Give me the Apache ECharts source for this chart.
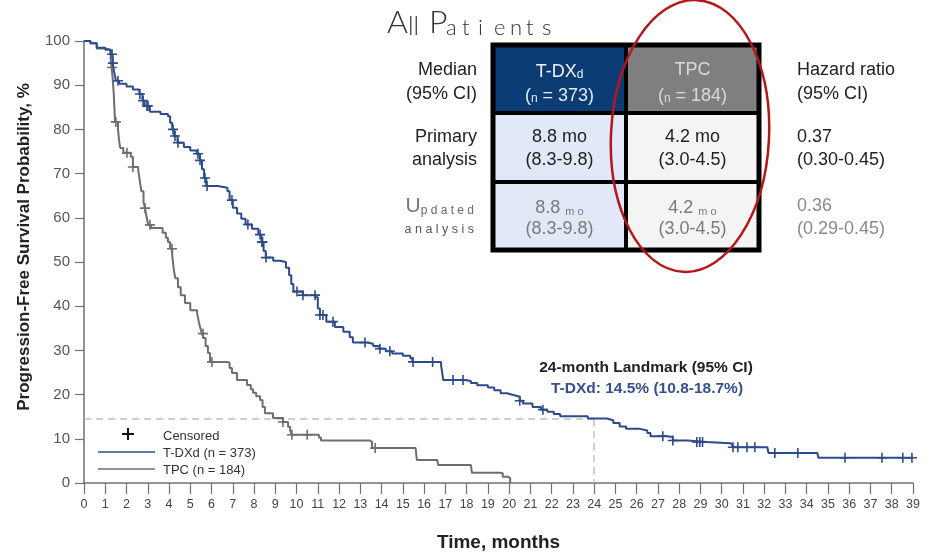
<!DOCTYPE html>
<html><head><meta charset="utf-8">
<script src="https://cdn.jsdelivr.net/npm/echarts@6/dist/echarts.min.js"></script>
<style>html,body{margin:0;padding:0;background:#fff}#c{width:935px;height:556px}</style>
</head><body><div id="c"></div>
<script>
// ---------------- DATA ----------------
const tdxdTime = [0,0.3,0.6,1.0,1.25,1.35,1.42,1.5,1.65,2.0,2.3,2.6,2.75,2.85,3.1,3.6,3.95,4.05,4.15,4.25,4.4,4.7,5.0,5.3,5.45,5.55,5.65,5.75,6.3,6.75,6.85,7.0,7.2,7.4,7.6,7.9,8.2,8.35,8.45,8.55,8.9,9.2,9.5,9.65,9.75,9.85,10.3,10.9,11.0,11.1,11.4,11.8,12.2,12.5,12.65,13.3,13.6,13.9,14.2,14.5,15.0,15.35,15.45,16.8,16.85,16.9,17.9,18.2,18.5,19.0,19.3,19.6,19.9,20.2,20.5,20.65,21.1,21.5,21.8,22.1,22.4,23.7,24.6,24.9,25.2,25.5,26.1,26.5,26.65,27.4,27.7,28.4,29.3,30.4,30.5,32.15,32.2,34.5,34.55,39];
const tdxdSurv = [100,99.5,98.5,98,97,95,93,91,90.3,89.7,89,88,86.5,85.3,84,83.5,83,81.5,80,78.5,77,76,75.2,74.5,73,71,69,67.2,66.8,66,64,62.3,61,59.8,58.5,57.5,56.2,54.5,52.5,51,50.3,50,48.7,47,45,43.3,42.5,42,39.5,38,36.5,35.3,34.2,33,31.8,31.5,31,30.4,29.8,29.3,28.8,28.2,27.4,26.6,25,23.3,23.1,22.6,22.1,21.6,21,20.3,19.9,19.5,18.6,18,17.2,16.6,16.1,15.6,15.1,14.6,14.2,13.6,12.8,12.3,11.9,11.3,10.6,10.4,9.6,9.3,9.0,8.8,8.1,7.9,6.8,6.8,5.7,5.7];
const tpcTime = [0,0.3,0.6,1.0,1.25,1.3,1.35,1.4,1.43,1.46,1.6,1.65,1.7,1.85,2.2,2.3,2.55,2.62,2.7,2.8,2.87,2.95,3.02,3.15,3.7,3.85,3.95,4.05,4.15,4.2,4.25,4.3,4.42,4.55,4.75,5.0,5.32,5.4,5.46,5.55,5.62,5.72,5.83,5.93,6.73,6.85,6.96,7.2,7.67,7.85,7.95,8.1,8.28,8.4,8.51,8.89,9.36,9.6,9.7,9.78,11.05,11.15,13.45,13.55,15.6,15.66,16.62,16.66,18.2,18.25,19.6,19.7,19.95,20.05];
const tpcSurv = [100,99.5,98.3,98,96,94,91.5,88,85,81.7,80,77.5,75.8,74.7,73.8,71.5,70.8,68.5,66,63.5,62.2,60,58.4,57.7,56.6,55.5,54.5,53,51.5,49.3,47.5,46.3,44.3,42.5,40.7,39.1,38.5,36.5,35.3,33.8,32.8,31,29.4,27.4,27.2,26,24.9,23.3,22.2,21.2,20.4,19.6,18.8,17.2,15.8,14.7,13.8,12.7,11.8,10.9,10.3,9.6,9.3,7.9,7.6,5.2,5.0,4.1,4.0,2.3,2.2,1.4,1.1,0];
const tdxdCensorTime = [1.32,1.36,1.6,2.63,2.78,2.96,3.01,4.19,4.28,4.42,5.36,5.46,5.69,5.79,6.96,7.71,8.28,8.37,8.4,8.56,10.02,10.3,10.87,11.1,11.24,11.71,13.22,13.92,14.39,15.48,16.4,17.36,17.83,20.5,21.59,27.23,27.7,28.83,28.97,29.1,30.53,30.76,31.19,31.56,32.5,33.58,35.8,37.54,38.52,38.95];
const tdxdCensorSurv = [97,95,91,88,86.5,85.3,85.3,80,78.5,77,74.5,73,69,67.2,64,58.5,56.2,54.5,54.5,51,43.3,42.5,42.5,38,38,36.5,31.8,30.4,29.8,27.4,27.4,23.3,23.3,18.6,16.6,10.6,9.6,9.3,9.3,9.3,8.1,8.1,8.1,8.1,6.8,6.8,5.7,5.7,5.7,5.7];
const tpcCensorTime = [1.32,1.5,2.02,2.3,2.87,3.1,4.14,5.6,6.02,9.36,9.78,10.5,13.7];
const tpcCensorSurv = [94,81.7,74.7,71.5,62.2,58.4,53,33.8,27.4,13.8,10.9,10.9,7.9];
const landmarkMonth = 24;
const landmarkValue = 14.5;
const seriesNames = ['T-DXd (n = 373)', 'TPC (n = 184)'];
const titleParts = ['A', 'll', 'P', 'atients'];
const tableHeaderTdxd = ['T-DX', 'd', '(', 'n', ' = 373)'];
const tableHeaderTpc = ['TPC', '(', 'n', ' = 184)'];
const rowLabels = [['Median', '(95% CI)'], ['Primary', 'analysis'], ['U', 'p d a t e d', 'a n a l y s i s']];
const tdxdPrimary = ['8.8 mo', '(8.3-9.8)'];
const tpcPrimary = ['4.2 mo', '(3.0-4.5)'];
const tdxdUpdated = ['8.8 ', 'm o', '(8.3-9.8)'];
const tpcUpdated = ['4.2 ', 'm o', '(3.0-4.5)'];
const hrLabels = [['Hazard ratio', '(95% CI)'], ['0.37', '(0.30-0.45)'], ['0.36', '(0.29-0.45)']];
const landmarkText = ['24-month Landmark (95% CI)', 'T-DXd: 14.5% (10.8-18.7%)'];

// ---------------- STYLE ----------------
const FONT = "'Liberation Sans', Arial, Helvetica, sans-serif";
const NARROW = "'Liberation Sans Narrow', 'Arial Narrow', 'Liberation Sans', Arial, sans-serif";
const TITLEF = "Lato, 'Noto Sans', sans-serif";
const BLUE = '#2d4b8c', GREY = '#6e6e6e';
const PLUS = 'path://M4.2,0H5.8V4.2H10V5.8H5.8V10H4.2V5.8H0V4.2H4.2Z';

const zip = (a, b) => a.map((v, i) => [v, b[i]]);

function txt(x, y, text, o) {
  o = o || {};
  return { type: 'text', x: x, y: y, z: o.z || 50, rotation: o.rotation || 0,
    style: { text: text, fill: o.fill || '#222', fontSize: o.size || 18, fontFamily: o.family || FONT,
      fontWeight: o.weight || 'normal', align: o.align || 'center', verticalAlign: o.va || 'middle', rich: o.rich } };
}
function richTok(size, fill, family) {
  return { fontSize: size, fill: fill, fontFamily: family || FONT, verticalAlign: 'bottom', lineHeight: 22 };
}

const gx0 = 493, gx1 = 626, gx2 = 759;
const gy = [45, 113, 182, 250];
const c1 = (gx0 + gx1) / 2, c2 = (gx1 + gx2) / 2;
const lineY = [[70, 94], [137, 160], [206, 229]];

const graphics = [];
// title (small-caps look, letter spaced)
const tt = (size, w) => ({ fontSize: size, fill: '#333', fontFamily: TITLEF, fontWeight: 300, verticalAlign: 'bottom', lineHeight: 36, width: w, align: 'left' });
const titleText = '{a|' + titleParts[0] + '}{b|' + titleParts[1] + '}{p|' + titleParts[2] + '}' +
  titleParts[3].split('').map(ch => '{t|' + ch + '}').join('');
graphics.push({ type: 'text', x: 387, y: 39, z: 50, style: {
  text: titleText, align: 'left', verticalAlign: 'bottom',
  rich: { a: tt(32, 21), b: tt(25, 21), p: tt(32, 17), t: tt(22, 16) } } });
// table cells
const fills = [['#0b3d74', '#7f7f7f'], ['#e1e8f7', '#f4f4f4'], ['#e1e8f7', '#f4f4f4']];
for (let r = 0; r < 3; r++) {
  graphics.push({ type: 'rect', z: 40, shape: { x: gx0, y: gy[r], width: gx1 - gx0, height: gy[r + 1] - gy[r] },
    style: { fill: fills[r][0], stroke: '#000', lineWidth: 4 } });
  graphics.push({ type: 'rect', z: 40, shape: { x: gx1, y: gy[r], width: gx2 - gx1, height: gy[r + 1] - gy[r] },
    style: { fill: fills[r][1], stroke: '#000', lineWidth: 4 } });
}
graphics.push({ type: 'rect', z: 41, shape: { x: gx0, y: gy[0], width: gx2 - gx0, height: gy[3] - gy[0] },
  style: { fill: 'none', stroke: '#000', lineWidth: 5 } });
// header texts
graphics.push(txt(c1, lineY[0][0], '{a|' + tableHeaderTdxd[0] + '}{s|' + tableHeaderTdxd[1] + '}', { rich: { a: richTok(18, '#eef2f8'), s: richTok(12, '#eef2f8') } }));
graphics.push(txt(c1, lineY[0][1], '{a|' + tableHeaderTdxd[2] + '}{s|' + tableHeaderTdxd[3] + '}{a|' + tableHeaderTdxd[4] + '}', { rich: { a: richTok(18, '#e4e9f2'), s: richTok(12, '#e4e9f2') } }));
graphics.push(txt(c2, lineY[0][0], tableHeaderTpc[0], { fill: '#dadada' }));
graphics.push(txt(c2, lineY[0][1], '{a|' + tableHeaderTpc[1] + '}{s|' + tableHeaderTpc[2] + '}{a|' + tableHeaderTpc[3] + '}', { rich: { a: richTok(18, '#dadada'), s: richTok(12, '#dadada') } }));
// primary row
graphics.push(txt(c1, lineY[1][0], tdxdPrimary[0]));
graphics.push(txt(c1, lineY[1][1], tdxdPrimary[1]));
graphics.push(txt(c2, lineY[1][0], tpcPrimary[0]));
graphics.push(txt(c2, lineY[1][1], tpcPrimary[1]));
// updated row
const UPC = '#7a7a7a';
graphics.push(txt(c1, lineY[2][0], '{a|' + tdxdUpdated[0] + '}{s|' + tdxdUpdated[1] + '}', { rich: { a: richTok(18, UPC), s: richTok(11, UPC) } }));
graphics.push(txt(c1, lineY[2][1], tdxdUpdated[2], { fill: UPC }));
graphics.push(txt(c2, lineY[2][0], '{a|' + tpcUpdated[0] + '}{s|' + tpcUpdated[1] + '}', { rich: { a: richTok(18, UPC), s: richTok(11, UPC) } }));
graphics.push(txt(c2, lineY[2][1], tpcUpdated[2], { fill: UPC }));
// left labels
const LX = 477;
graphics.push(txt(LX, lineY[0][0], rowLabels[0][0], { align: 'right' }));
graphics.push(txt(LX, lineY[0][1], rowLabels[0][1], { align: 'right' }));
graphics.push(txt(LX, lineY[1][0], rowLabels[1][0], { align: 'right' }));
graphics.push(txt(LX, lineY[1][1], rowLabels[1][1], { align: 'right' }));
graphics.push(txt(LX - 3, lineY[2][0], '{u|' + rowLabels[2][0] + '}{s|' + rowLabels[2][1] + '}', { align: 'right', rich: { u: richTok(21, '#7b6f80'), s: richTok(12, '#6a6a6a') } }));
graphics.push(txt(LX - 3, lineY[2][1] + 1, rowLabels[2][2], { align: 'right', size: 12.5, fill: '#555' }));
// right labels
const RX = 797;
for (let r = 0; r < 3; r++) {
  const f = r === 2 ? '#8a8a8a' : '#222';
  graphics.push(txt(RX, lineY[r][0], hrLabels[r][0], { align: 'left', fill: f }));
  graphics.push(txt(RX, lineY[r][1], hrLabels[r][1], { align: 'left', fill: f }));
}
// red ellipse
graphics.push({ type: 'ellipse', z: 60, x: 690, y: 136, rotation: -0.05, shape: { cx: 0, cy: 0, rx: 79, ry: 136 },
  style: { fill: 'none', stroke: '#b5161b', lineWidth: 2.5 } });
// landmark annotation
graphics.push(txt(646, 368, landmarkText[0], { size: 15.5, weight: 'bold', fill: '#222' }));
graphics.push(txt(647, 389, landmarkText[1], { size: 15.5, weight: 'bold', fill: '#34508f' }));
// legend
graphics.push({ type: 'line', z: 50, shape: { x1: 122, y1: 434, x2: 134, y2: 434 }, style: { stroke: '#111', lineWidth: 2 } });
graphics.push({ type: 'line', z: 50, shape: { x1: 128, y1: 428, x2: 128, y2: 440 }, style: { stroke: '#111', lineWidth: 2 } });
graphics.push({ type: 'line', z: 50, shape: { x1: 98, y1: 452, x2: 155, y2: 452 }, style: { stroke: BLUE, lineWidth: 1.5 } });
graphics.push({ type: 'line', z: 50, shape: { x1: 98, y1: 469, x2: 155, y2: 469 }, style: { stroke: GREY, lineWidth: 1.5 } });
graphics.push(txt(163, 436, 'Censored', { align: 'left', size: 13, fill: '#333' }));
graphics.push(txt(163, 453, seriesNames[0], { align: 'left', size: 13, fill: '#333' }));
graphics.push(txt(163, 470, seriesNames[1], { align: 'left', size: 13, fill: '#333' }));
// y axis name
graphics.push(txt(24, 247, 'Progression-Free Survival Probability, %', { rotation: Math.PI / 2, size: 17, weight: 'bold', fill: '#222' }));

const chart = echarts.init(document.getElementById('c'), null, { renderer: 'canvas' });
chart.setOption({
  animation: false,
  backgroundColor: '#fff',
  grid: { left: 84, right: 22, top: 41, bottom: 73, containLabel: false, outerBoundsMode: 'none' },
  xAxis: {
    type: 'value', min: 0, max: 39, interval: 1,
    axisLine: { lineStyle: { color: '#707070', width: 1.5 } },
    axisTick: { length: 11, lineStyle: { color: '#707070', width: 1.2 } },
    axisLabel: { margin: 15, fontSize: 12.5, color: '#444', fontFamily: NARROW },
    splitLine: { show: false },
    name: 'Time, months', nameLocation: 'middle', nameGap: 50,
    nameTextStyle: { fontSize: 19, fontWeight: 'bold', color: '#222', fontFamily: NARROW }
  },
  yAxis: {
    type: 'value', min: 0, max: 100, interval: 10,
    axisLine: { show: true, lineStyle: { color: '#707070', width: 1.5 } },
    axisTick: { show: true, length: 9, lineStyle: { color: '#707070', width: 1.2 } },
    axisLabel: { margin: 14, fontSize: 15, color: '#555', fontFamily: FONT },
    splitLine: { show: false }
  },
  series: [
    { name: seriesNames[1], type: 'line', step: 'end', symbol: 'none', data: zip(tpcTime, tpcSurv),
      lineStyle: { color: GREY, width: 2 }, z: 3 },
    { name: seriesNames[0], type: 'line', step: 'end', symbol: 'none', data: zip(tdxdTime, tdxdSurv),
      lineStyle: { color: BLUE, width: 2 }, z: 4,
      markLine: { silent: true, symbol: ['none', 'none'], label: { show: false }, z: 1,
        lineStyle: { type: [7, 5], color: '#c0c0c0', width: 1.5 },
        data: [[{ coord: [0, landmarkValue] }, { coord: [landmarkMonth, landmarkValue] }],
               [{ coord: [landmarkMonth, landmarkValue] }, { coord: [landmarkMonth, 0] }]] } },
    { type: 'scatter', symbol: PLUS, symbolSize: 10, data: zip(tpcCensorTime, tpcCensorSurv),
      itemStyle: { color: GREY, opacity: 1 }, z: 5 },
    { type: 'scatter', symbol: PLUS, symbolSize: 10, data: zip(tdxdCensorTime, tdxdCensorSurv),
      itemStyle: { color: BLUE, opacity: 1 }, z: 6 }
  ],
  graphic: graphics
});
</script></body></html>
